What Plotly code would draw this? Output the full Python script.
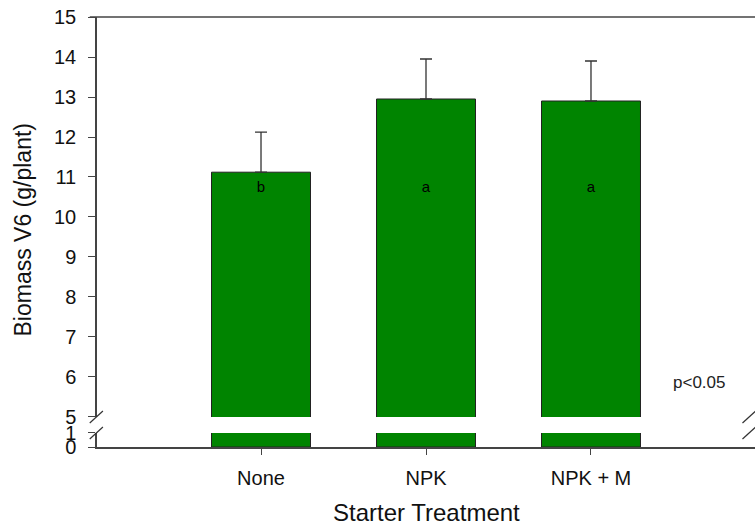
import plotly.graph_objects as go

categories = ["None", "NPK", "NPK + M"]
biomass = [11.12, 12.95, 12.9]
errors = [1.0, 1.0, 1.0]
letters = ["b", "a", "a"]
upper_ticks = [5, 6, 7, 8, 9, 10, 11, 12, 13, 14, 15]
lower_ticks = [0, 1]

xpos = [0, 1, 2]
green = "#008400"
axis_col = "#444444"
font_fam = "Liberation Sans, Arial, sans-serif"
letter_level = 10.73

fig = go.Figure()
# upper segment
fig.add_trace(go.Bar(
    x=xpos, y=biomass, width=0.6, marker=dict(color=green, line=dict(color="#222", width=1)),
    error_y=dict(type="data", array=errors, symmetric=False, arrayminus=[0, 0, 0],
                 color="#333", thickness=1.3, width=6),
    xaxis="x", yaxis="y", showlegend=False, hoverinfo="skip"))
# lower segment
fig.add_trace(go.Bar(
    x=xpos, y=biomass, width=0.6, marker=dict(color=green, line=dict(color="#222", width=1)),
    xaxis="x2", yaxis="y2", showlegend=False, hoverinfo="skip"))
# letters
fig.add_trace(go.Scatter(
    x=xpos, y=[letter_level] * len(xpos), mode="text", text=letters,
    textfont=dict(family=font_fam, size=15, color="black"),
    xaxis="x", yaxis="y", showlegend=False, hoverinfo="skip"))

xr = [-0.994, 2.994]
fig.update_layout(
    width=755, height=527,
    margin=dict(l=97, r=0, t=17, b=80, autoexpand=False),
    plot_bgcolor="white", paper_bgcolor="white",
    font=dict(family=font_fam, color="#111"),
    bargap=0.4,
    xaxis=dict(domain=[0, 1], range=xr, anchor="y", showticklabels=False, ticks="",
               showline=False, showgrid=False, zeroline=False, automargin=False),
    xaxis2=dict(domain=[0, 1], range=xr, anchor="y2", tickmode="array", tickvals=xpos,
                ticktext=categories, ticks="outside", ticklen=6, tickcolor=axis_col,
                showline=True, linecolor=axis_col, linewidth=1.5, showgrid=False, zeroline=False,
                tickfont=dict(size=20, color="#111"), automargin=False, ticklabelstandoff=6),
    yaxis=dict(domain=[0.0698, 1], range=[5, 15], tickmode="array", tickvals=upper_ticks,
               ticks="outside", ticklen=7, tickcolor=axis_col, showline=True, linecolor=axis_col,
               linewidth=1.5, showgrid=False, zeroline=False, anchor="x", automargin=False,
               tickfont=dict(size=20, color="#111"), ticklabelstandoff=8),
    yaxis2=dict(domain=[0, 0.0326], range=[0, 1], tickmode="array", tickvals=lower_ticks,
                ticks="outside", ticklen=7, tickcolor=axis_col, showline=True, linecolor=axis_col,
                linewidth=1.5, showgrid=False, zeroline=False, anchor="x2", automargin=False,
                tickfont=dict(size=20, color="#111"), ticklabelstandoff=8),
)

# axis titles
fig.add_annotation(text="Biomass V6 (g/plant)", xref="paper", yref="paper",
                   x=-0.113, y=0.505, xanchor="center", yanchor="middle", textangle=-90,
                   showarrow=False, font=dict(size=23, color="#111"))
fig.add_annotation(text="Starter Treatment", xref="paper", yref="paper",
                   x=0.501, y=-0.153, xanchor="center", yanchor="middle",
                   showarrow=False, font=dict(size=24, color="#111"))

# top frame line
fig.add_shape(type="line", xref="paper", yref="paper", x0=-0.011, x1=1, y0=1, y1=1,
              line=dict(color=axis_col, width=1.5))
# break marks
for yb in [0.0698, 0.0326]:
    for xb in [0.0, 0.992]:
        fig.add_shape(type="line", xref="paper", yref="paper",
                      x0=xb - 0.011, x1=xb + 0.009, y0=yb - 0.014, y1=yb + 0.014,
                      line=dict(color="#333", width=1.2))

fig.add_annotation(text="p<0.05", xref="paper", yref="paper", x=0.915, y=0.149,
                   xanchor="center", yanchor="middle",
                   showarrow=False, font=dict(size=17, color="#222"))

fig.write_html("out.html", post_script="document.body.style.margin='0';",
               config={"displayModeBar": False})
